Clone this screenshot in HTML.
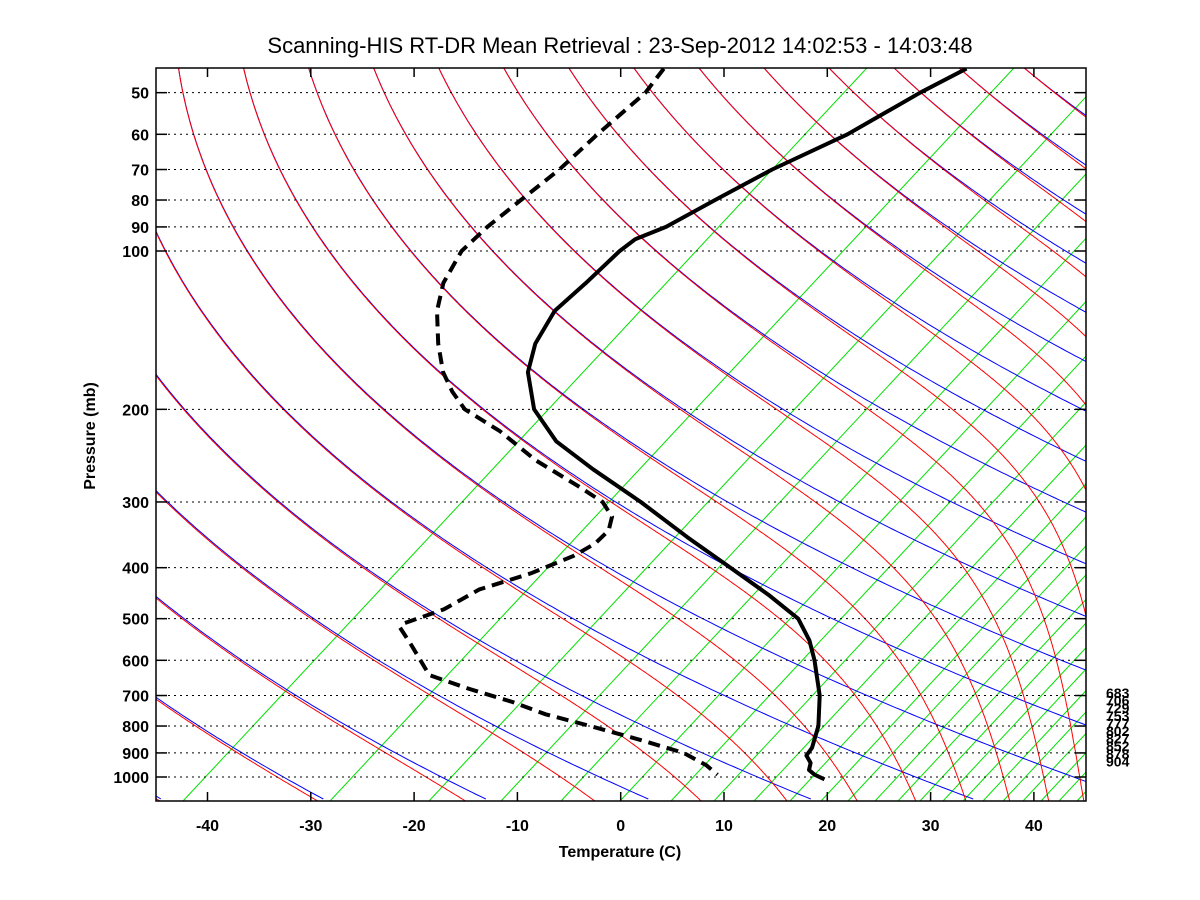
<!DOCTYPE html>
<html><head><meta charset="utf-8"><title>Skew-T</title>
<style>
html,body{margin:0;padding:0;background:#fff;}
svg{display:block;font-family:"Liberation Sans",Arial,sans-serif;}
</style></head>
<body>
<svg id="chart" width="1200" height="900" viewBox="0 0 1200 900" xmlns="http://www.w3.org/2000/svg">
<rect width="1200" height="900" fill="#fff"/>
<defs><clipPath id="plotclip"><rect x="156" y="68" width="930" height="733"/></clipPath></defs>
<text x="620" y="53" font-size="22" text-anchor="middle" fill="#000">Scanning-HIS RT-DR Mean Retrieval : 23-Sep-2012 14:02:53 - 14:03:48</text>
<g id="bg" clip-path="url(#plotclip)"></g>
<g id="grid"></g>
<g id="profiles" clip-path="url(#plotclip)"></g>
<g id="axes"></g>
<text x="620" y="857" font-size="16" font-weight="bold" text-anchor="middle">Temperature (C)</text>
<text transform="translate(95,436) rotate(-90)" font-size="16" font-weight="bold" text-anchor="middle">Pressure (mb)</text>
</svg>
<script>
// ---- data ----
const tempPressures = [45,50,60,70,80,90,95,100,115,130,150,170,200,230,260,300,350,400,450,500,550,600,700,800,880,910,940,970,990,1010];
const tempValues = [-81.0,-81.6,-81.9,-83.5,-84.1,-84.5,-85.5,-85.1,-83.2,-81.7,-78.3,-74.4,-67.8,-60.5,-52.4,-42.5,-32.3,-23.2,-15.2,-8.4,-3.8,-0.1,6.1,10.9,13.8,14.5,16.1,17.1,18.4,20.1];
const dewPressures = [45,50,60,70,80,90,100,115,130,150,170,185,200,220,250,280,300,320,340,360,380,410,440,480,510,520,560,640,680,720,760,800,850,900,950,990];
const dewValues = [-110.3,-108.2,-106.1,-104.1,-102.9,-101.8,-100.4,-97.0,-93.1,-87.7,-82.6,-78.6,-74.5,-67.6,-59.4,-51.1,-46.2,-42.9,-41.0,-40.2,-40.3,-41.6,-44.0,-44.2,-45.8,-45.5,-41.7,-35.0,-28.9,-22.6,-17.4,-11.2,-4.1,2.2,6.4,9.0];
const pressureTicks = [50,60,70,80,90,100,200,300,400,500,600,700,800,900,1000];
const tempTicks = [-40,-30,-20,-10,0,10,20,30,40];
const sideLabels = ["683","706","729","753","777","802","827","852","878","904"];

// ---- axis functions ----
const SKEW = 85;
const X0 = 620.7, PX = 10.33;
const LEFT = 156, RIGHT = 1086, TOP = 68, BOTTOM = 801;
const TOFF = 25; // background adiabat temperature offset (K)
function yP(p){ return 251 + 526*Math.log10(p/100); }
function xT(T,p){ return X0 + PX*(T + SKEW*Math.log10(1000/p)); }
const NS = "http://www.w3.org/2000/svg";
function mk(tag, attrs, parent){ const e=document.createElementNS(NS,tag); for(const k in attrs) e.setAttribute(k,attrs[k]); parent.appendChild(e); return e; }
const bg = document.getElementById('bg'), grid=document.getElementById('grid'), axes=document.getElementById('axes'), prof=document.getElementById('profiles');

// green mixing-ratio style lines (straight)
const greenBase = [183,330,429,501,561,620,671,714,754,790,821,848,875,898,920,943,963,983,1003,1023,1041,1059,1077];
greenBase.forEach(function(xb){
  const l = mk('line',{x1:xb,y1:BOTTOM,x2:xb+0.933*(BOTTOM-TOP),y2:TOP,stroke:'#00e000','stroke-width':1},bg);
  
  
});
// dry & moist adiabats
const pLevels=[]; for(let lp=Math.log(44); lp<=Math.log(1110); lp+=0.01) pLevels.push(Math.exp(lp));
function esat(Tc){ return 6.112*Math.exp(17.67*Tc/(Tc+243.5)); }
for(let k=-8;k<=30;k++){
  const th = 265.5 + 15.3*k;
  let d='';
  pLevels.forEach(function(p,i){ const T=th*Math.pow(p/1000,0.286)-TOFF-273.15; d+=(i?'L':'M')+xT(T,p).toFixed(1)+' '+yP(p).toFixed(1); });
  const b = mk('path',{d:d,fill:'none',stroke:'#0000ff','stroke-width':1},bg);
  
  
  // moist
  let Tp = th*Math.pow(44/1000,0.286); let p=44;
  let dm='M'+xT(Tp-TOFF-273.15,p).toFixed(1)+' '+yP(p).toFixed(1);
  const dl=0.005;
  while(p<1110){
    const Td=Tp-TOFF; const Tc=Td-273.15; const es=esat(Tc); const rs=0.622*es/Math.max(p-es,1);
    const dT=(287*Tp+2.5e6*rs)/(1004+2.5e6*2.5e6*rs*0.622/(461.5*Td*Td));
    Tp += dT*dl; p = p*Math.exp(dl);
    dm += 'L'+xT(Tp-TOFF-273.15,p).toFixed(1)+' '+yP(p).toFixed(1);
  }
  const r = mk('path',{d:dm,fill:'none',stroke:'#ff0000','stroke-width':1},bg);
  
  
}
// horizontal dotted gridlines + y ticks/labels
pressureTicks.forEach(function(p){
  const y=yP(p);
  const g=mk('line',{x1:LEFT,y1:y,x2:RIGHT,y2:y,stroke:'#000','stroke-width':1,'stroke-dasharray':'2,4'},grid);
  
  
  mk('line',{x1:LEFT,y1:y,x2:LEFT+11,y2:y,stroke:'#000','stroke-width':1.5},axes);
  mk('line',{x1:RIGHT-11,y1:y,x2:RIGHT,y2:y,stroke:'#000','stroke-width':1.5},axes);
  const t=mk('text',{x:149,y:y+6,'font-size':16,'font-weight':'bold','text-anchor':'end'},axes);
  t.textContent=p;
  
  
});
tempTicks.forEach(function(T){
  const x=X0+PX*T;
  mk('line',{x1:x,y1:BOTTOM,x2:x,y2:BOTTOM-9,stroke:'#000','stroke-width':1.5},axes);
  mk('line',{x1:x,y1:TOP,x2:x,y2:TOP+9,stroke:'#000','stroke-width':1.5},axes);
  const t=mk('text',{x:x,y:831,'font-size':16,'font-weight':'bold','text-anchor':'middle'},axes);
  t.textContent=T;
  
  
});
const frame=mk('rect',{x:LEFT,y:TOP,width:RIGHT-LEFT,height:BOTTOM-TOP,fill:'none',stroke:'#000','stroke-width':1.5},axes);


sideLabels.forEach(function(s,i){
  const t=mk('text',{x:1106,y:698+i*7.6,'font-size':14,'font-weight':'bold'},axes);
  t.textContent=s;
  
  
});
// profiles
function pathFor(ps,ts){ let d=''; ps.forEach(function(p,i){ d+=(i?'L':'M')+xT(ts[i],p).toFixed(1)+' '+yP(p).toFixed(1); }); return d; }
const tl=mk('path',{d:pathFor(tempPressures,tempValues),fill:'none',stroke:'#000','stroke-width':4,'stroke-linejoin':'round'},prof);


const dl2=mk('path',{d:pathFor(dewPressures,dewValues),fill:'none',stroke:'#000','stroke-width':4,'stroke-dasharray':'12,7'},prof);


</script>
</body></html>
